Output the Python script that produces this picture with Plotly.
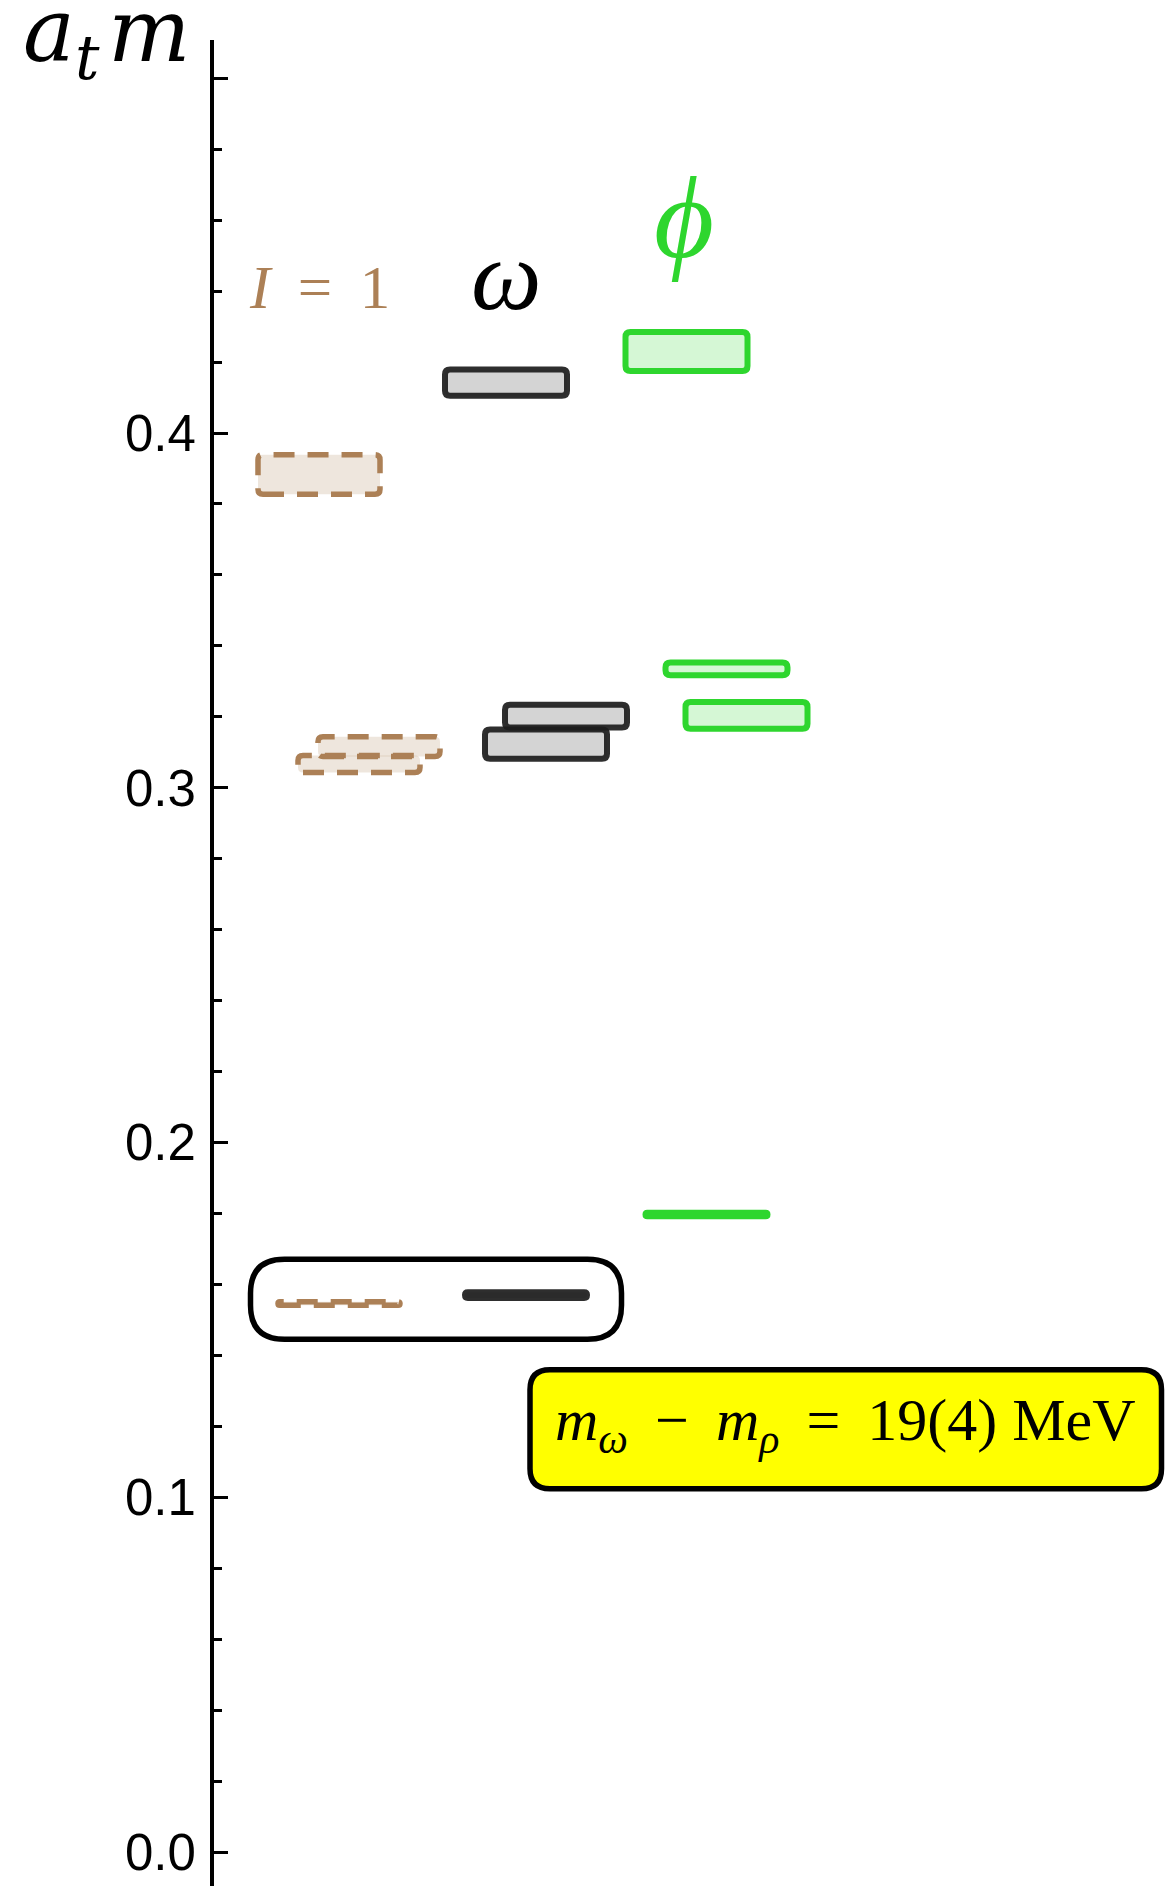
import plotly.graph_objects as go

# ---- Spectrum data: energy levels a_t m and their uncertainties ----
rho_mass = [0.1546, 0.3067, 0.3116, 0.3883]
rho_err = [0.0005, 0.0024, 0.0028, 0.0056]
omega_mass = [0.1570, 0.3123, 0.3202, 0.4142]
omega_err = [0.0008, 0.0041, 0.0032, 0.0037]
phi_mass = [0.1797, 0.3204, 0.3335, 0.4230]
phi_err = [0.0005, 0.0038, 0.0018, 0.0055]

channel_labels = ["<i>I</i> \u2009= \u20091", "<i>ω</i>", "<i>ϕ</i>"]
y_ticks = [0.0, 0.1, 0.2, 0.3, 0.4, 0.5]
y_tick_labels = ["0.0", "0.1", "0.2", "0.3", "0.4", ""]
axis_title = "<i>a</i><sub><i>t</i></sub>\u200a<i>m</i>"
mass_diff_text = ("<i>m</i><sub><i>ω</i></sub> \u2009− \u2009<i>m</i><sub><i>ρ</i></sub>"
                  " \u2009= \u200919(4) MeV")

# ---- Layout geometry ----
W, H = 1173, 1886
ML, MT = 214, 40
Y_RANGE = [-0.00958, 0.51078]
PX_PER_Y = (H - MT) / (Y_RANGE[1] - Y_RANGE[0])
X_RANGE = [0, W - ML]          # one x unit per pixel of the plot area

col_center = [105, 292, 472.5]
level_shift = [[20, 40, 60, 0], [20, 40, 60, 0], [20, 60, 40, 0]]
HALF_W = 61

BROWN = "rgb(172,128,86)"
BROWN_FILL = "rgba(172,128,86,0.2)"
DARK = "rgba(28,28,28,0.92)"
DARK_FILL = "rgba(0,0,0,0.17)"
GREEN = "rgb(46,214,46)"
GREEN_FILL = "rgba(46,214,46,0.2)"

styles = [
    dict(line=dict(color=BROWN, width=5.5, dash="21px,13px"), fillcolor=BROWN_FILL),
    dict(line=dict(color=DARK, width=6), fillcolor=DARK_FILL),
    dict(line=dict(color=GREEN, width=6), fillcolor=GREEN_FILL),
]


def rounded_rect(x0, x1, y0, y1, r_px):
    """SVG path of a rounded rectangle in data coordinates."""
    r = min(r_px, (y1 - y0) * PX_PER_Y / 2, (x1 - x0) / 2)
    rx, ry = r, r / PX_PER_Y
    return (
        f"M {x0 + rx},{y0} L {x1 - rx},{y0} Q {x1},{y0} {x1},{y0 + ry} "
        f"L {x1},{y1 - ry} Q {x1},{y1} {x1 - rx},{y1} "
        f"L {x0 + rx},{y1} Q {x0},{y1} {x0},{y1 - ry} "
        f"L {x0},{y0 + ry} Q {x0},{y0} {x0 + rx},{y0} Z"
    )


fig = go.Figure()
# invisible trace so the axes exist
fig.add_trace(go.Scatter(x=[0], y=[0], mode="markers", marker=dict(opacity=0),
                         hoverinfo="skip", showlegend=False))

shapes = []
channels = [(rho_mass, rho_err), (omega_mass, omega_err), (phi_mass, phi_err)]
for ci, (masses, errs) in enumerate(channels):
    order = sorted(range(len(masses)), key=lambda k: -level_shift[ci][k])
    for k in order:
        xc = col_center[ci] + level_shift[ci][k]
        path = rounded_rect(xc - HALF_W, xc + HALF_W,
                            masses[k] - errs[k], masses[k] + errs[k], 5)
        shapes.append(dict(type="path", path=path, xref="x", yref="y",
                           layer="above", **styles[ci]))

# highlight around the two ground states
g_center = (rho_mass[0] + omega_mass[0]) / 2
g_half = 40 / PX_PER_Y
shapes.append(dict(type="path", xref="x", yref="y", layer="above",
                   path=rounded_rect(36.5, 407.5, g_center - g_half, g_center + g_half, 34),
                   line=dict(color="black", width=5.5), fillcolor="rgba(0,0,0,0)"))

# yellow result box
box_yc = 0.1192
box_half = 59.5 / PX_PER_Y
shapes.append(dict(type="path", xref="x", yref="y", layer="above",
                   path=rounded_rect(316, 947.5, box_yc - box_half, box_yc + box_half, 20),
                   line=dict(color="black", width=5.5), fillcolor="rgb(255,255,0)"))

annotations = [
    dict(x=col_center[0], y=0.4409, text=channel_labels[0], showarrow=False,
         font=dict(family="Liberation Serif", size=61, color=BROWN)),
    dict(x=col_center[1], y=0.4443, text=channel_labels[1], showarrow=False,
         font=dict(family="Liberation Serif", size=100, color="black")),
    dict(x=col_center[2] - 3, y=0.4605, text=channel_labels[2], showarrow=False,
         font=dict(family="Liberation Serif, DejaVu Serif", size=116, color=GREEN)),
    dict(x=631.75, y=0.1205, text=mass_diff_text, showarrow=False,
         font=dict(family="Liberation Serif", size=60, color="black")),
    dict(xref="paper", yref="paper", x=(21 - ML) / (W - ML), y=1 - (95 - MT) / (H - MT),
         xanchor="left", yanchor="bottom", text=axis_title, showarrow=False,
         font=dict(family="DejaVu Serif", size=87, color="black")),
]

fig.update_layout(
    width=W, height=H,
    margin=dict(l=ML, r=0, t=MT, b=0, pad=0),
    paper_bgcolor="white", plot_bgcolor="white",
    showlegend=False,
    shapes=shapes,
    annotations=annotations,
    xaxis=dict(range=X_RANGE, visible=False, showgrid=False, zeroline=False, fixedrange=True),
    yaxis=dict(
        range=Y_RANGE, showline=True, linecolor="black", linewidth=4,
        showgrid=False, zeroline=False,
        ticks="inside", ticklen=14, tickwidth=3.3, tickcolor="black",
        tickvals=y_ticks, ticktext=y_tick_labels,
        tickfont=dict(family="Liberation Sans", size=51, color="black"),
        ticklabelstandoff=4,
        minor=dict(ticks="inside", ticklen=8, tickwidth=3.3, tickcolor="black", dtick=0.02,
                   showgrid=False),
    ),
)

fig.write_html("out.html")
